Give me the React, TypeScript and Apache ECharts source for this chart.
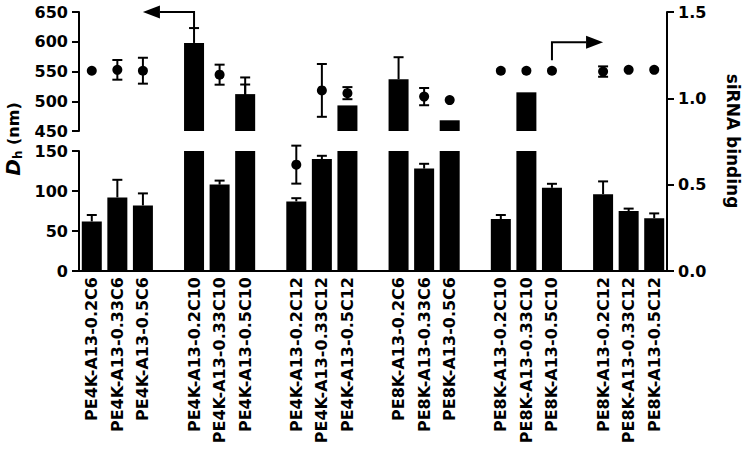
import React, { useEffect, useRef } from "react";
import * as echarts from "echarts";

const categories = [
  "PE4K-A13-0.2C6", "PE4K-A13-0.33C6", "PE4K-A13-0.5C6",
  "PE4K-A13-0.2C10", "PE4K-A13-0.33C10", "PE4K-A13-0.5C10",
  "PE4K-A13-0.2C12", "PE4K-A13-0.33C12", "PE4K-A13-0.5C12",
  "PE8K-A13-0.2C6", "PE8K-A13-0.33C6", "PE8K-A13-0.5C6",
  "PE8K-A13-0.2C10", "PE8K-A13-0.33C10", "PE8K-A13-0.5C10",
  "PE8K-A13-0.2C12", "PE8K-A13-0.33C12", "PE8K-A13-0.5C12",
];
const groupSize = 3;
const dhValues = [62, 92, 82, 598, 108, 512, 87, 140, 493, 537, 128, 468, 65, 515, 104, 96, 75, 66];
const dhErrors = [8, 22, 15, 25, 5, 28, 4, 4, 0, 37, 6, 0, 5, 0, 5, 16, 3, 6];
const bindingValues = [1.16, 1.165, 1.16, 1.15, 1.137, 0.98, 0.616, 1.046, 1.03, 0.98, 1.01, 0.99, 1.16, 1.16, 1.16, 1.155, 1.165, 1.165];
const bindingErrors = [0, 0.057, 0.075, 0, 0.058, 0.1, 0.11, 0.153, 0.035, 0, 0.05, 0, 0, 0, 0, 0.03, 0, 0];
const upperRange = [450, 650];
const lowerRange = [0, 150];
const rightRange = [0, 1.5];
const leftInterval = 50;
const rightInterval = 0.5;

const FONT = "'DejaVu Sans', Verdana, sans-serif";

export default function App() {
  const ref = useRef<HTMLDivElement>(null);

  useEffect(() => {
    if (!ref.current) return;
    const chart = echarts.init(ref.current, null, { renderer: "svg" });

    // slots with a blank slot between groups
    const slotNames: string[] = [];
    const slotOf: number[] = [];
    categories.forEach((c, i) => {
      if (i > 0 && i % groupSize === 0) slotNames.push("gap" + i);
      slotOf.push(slotNames.length);
      slotNames.push(c);
    });
    const barData = slotNames.map(() => null as number | null);
    categories.forEach((_, i) => (barData[slotOf[i]] = dhValues[i]));

    const upperErr = categories
      .map((_, i) => [slotOf[i], dhValues[i], dhErrors[i]])
      .filter((d) => d[2] > 0 && d[1] >= upperRange[0]);
    const lowerErr = categories
      .map((_, i) => [slotOf[i], dhValues[i], dhErrors[i]])
      .filter((d) => d[2] > 0 && d[1] + d[2] <= lowerRange[1]);
    const dots = categories.map((_, i) => [slotOf[i], bindingValues[i]]);
    const dotErr = categories
      .map((_, i) => [slotOf[i], bindingValues[i], bindingErrors[i]])
      .filter((d) => d[2] > 0);

    const errRender = (both: boolean) => (params: any, api: any) => {
      const x = api.value(0);
      const v = api.value(1);
      const e = api.value(2);
      const top = api.coord([x, v + e]);
      const bot = api.coord([x, both ? v - e : v]);
      const st = { stroke: "#000", lineWidth: 2 };
      const children: any[] = [
        { type: "line", shape: { x1: top[0], y1: top[1], x2: bot[0], y2: bot[1] }, style: st },
        { type: "line", shape: { x1: top[0] - 5, y1: top[1], x2: top[0] + 5, y2: top[1] }, style: st },
      ];
      if (both)
        children.push({ type: "line", shape: { x1: bot[0] - 5, y1: bot[1], x2: bot[0] + 5, y2: bot[1] }, style: st });
      return { type: "group", children };
    };

    const axisLine = { show: true, lineStyle: { color: "#000", width: 2 } };
    const axisTick = { show: true, length: 7, inside: false, lineStyle: { color: "#000", width: 2 } };
    const tickLabel = { color: "#000", fontSize: 16, fontWeight: "bold", fontFamily: FONT, margin: 11 };

    const gridBase = { left: 79, right: 83, containLabel: false };

    chart.setOption({
      animation: false,
      grid: [
        { ...gridBase, top: 12, height: 119 },
        { ...gridBase, top: 151, height: 120 },
        { ...gridBase, top: 12, height: 259 },
      ],
      xAxis: [
        { gridIndex: 0, type: "category", data: slotNames, show: false },
        {
          gridIndex: 1,
          type: "category",
          data: slotNames,
          axisLine: { show: true, lineStyle: { color: "#000", width: 2 } },
          axisTick: { show: false },
          axisLabel: {
            interval: 0,
            rotate: 90,
            color: "#000",
            fontSize: 16,
            fontWeight: "bold",
            fontFamily: FONT,
            margin: 6,
            formatter: (v: string) => (v.startsWith("gap") ? "" : v),
          },
        },
        { gridIndex: 2, type: "category", data: slotNames, show: false },
      ],
      yAxis: [
        {
          gridIndex: 0, type: "value", min: upperRange[0], max: upperRange[1], interval: leftInterval,
          axisLine, axisTick, axisLabel: tickLabel, splitLine: { show: false },
        },
        {
          gridIndex: 1, type: "value", min: lowerRange[0], max: lowerRange[1], interval: leftInterval,
          axisLine, axisTick, axisLabel: tickLabel, splitLine: { show: false },
        },
        {
          gridIndex: 2, type: "value", position: "right", min: rightRange[0], max: rightRange[1], interval: rightInterval,
          axisLine, axisTick,
          axisLabel: { ...tickLabel, formatter: (v: number) => v.toFixed(1) },
          splitLine: { show: false },
        },
      ],
      series: [
        { type: "bar", xAxisIndex: 0, yAxisIndex: 0, data: barData, barWidth: 20, clip: true, itemStyle: { color: "#000" }, z: 2 },
        { type: "bar", xAxisIndex: 1, yAxisIndex: 1, data: barData, barWidth: 20, clip: true, itemStyle: { color: "#000" }, z: 2 },
        { type: "custom", xAxisIndex: 0, yAxisIndex: 0, data: upperErr, renderItem: errRender(false), z: 3, clip: true },
        { type: "custom", xAxisIndex: 1, yAxisIndex: 1, data: lowerErr, renderItem: errRender(false), z: 3, clip: true },
        { type: "custom", xAxisIndex: 2, yAxisIndex: 2, data: dotErr, renderItem: errRender(true), z: 9 },
        {
          type: "scatter", xAxisIndex: 2, yAxisIndex: 2, data: dots, symbol: "circle", symbolSize: 10,
          itemStyle: { color: "#000", opacity: 1 }, z: 10,
        },
      ],
    });

    // annotation arrows positioned through the axes
    const p = (g: number, pt: [number, number]) => chart.convertToPixel({ gridIndex: g } as any, pt) as number[];
    const a1Start = p(0, [slotOf[3], dhValues[3] + dhErrors[3]]);
    const a1Corner = p(0, [slotOf[3], upperRange[1]]);
    const a1Tip = p(0, [slotOf[2], upperRange[1]]);
    const a2Start = p(2, [slotOf[14], 1.22]);
    const a2Corner = p(2, [slotOf[14], 1.325]);
    const a2Tip = p(2, [slotOf[15], 1.325]);
    const head = 17;
    const hh = 6.5;
    const lineSt = { stroke: "#000", lineWidth: 2, fill: "none" };

    chart.setOption({
      graphic: [
        {
          type: "polyline",
          shape: { points: [a1Start, a1Corner, [a1Tip[0] + head, a1Corner[1]]] },
          style: lineSt,
        },
        {
          type: "polygon",
          shape: { points: [[a1Tip[0], a1Tip[1]], [a1Tip[0] + head, a1Tip[1] - hh], [a1Tip[0] + head, a1Tip[1] + hh]] },
          style: { fill: "#000" },
        },
        {
          type: "polyline",
          shape: { points: [a2Start, a2Corner, [a2Tip[0] - head, a2Corner[1]]] },
          style: lineSt,
        },
        {
          type: "polygon",
          shape: { points: [[a2Tip[0], a2Tip[1]], [a2Tip[0] - head, a2Tip[1] - hh], [a2Tip[0] - head, a2Tip[1] + hh]] },
          style: { fill: "#000" },
        },
        {
          type: "text",
          x: 13,
          y: 139,
          rotation: Math.PI / 2,
          style: {
            text: "{d|D}{h|h}{n| (nm)}",
            align: "center",
            verticalAlign: "middle",
            fill: "#000",
            rich: {
              d: { fontStyle: "italic", fontWeight: "bold", fontSize: 20, fontFamily: FONT, lineHeight: 22, verticalAlign: "middle" },
              h: { fontWeight: "bold", fontSize: 12, fontFamily: FONT, lineHeight: 22, verticalAlign: "bottom", padding: [7, 0, 0, 0] },
              n: { fontWeight: "bold", fontSize: 16, fontFamily: FONT, lineHeight: 22, verticalAlign: "middle" },
            },
          },
        },
        {
          type: "text",
          x: 733,
          y: 141,
          rotation: -Math.PI / 2,
          style: {
            text: "siRNA binding",
            align: "center",
            verticalAlign: "middle",
            fill: "#000",
            fontSize: 17,
            fontWeight: "bold",
            fontFamily: FONT,
          },
        },
      ],
    });

    return () => chart.dispose();
  }, []);

  return (
    <div
      ref={ref}
      style={{ position: "absolute", left: 0, top: 0, width: 750, height: 451, background: "#fff" }}
    />
  );
}
